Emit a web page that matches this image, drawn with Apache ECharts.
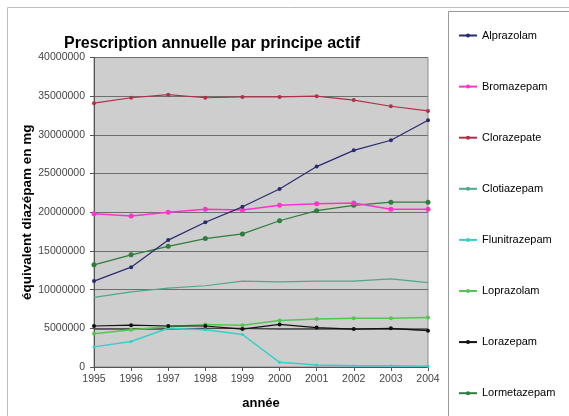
<!DOCTYPE html>
<html>
<head>
<meta charset="utf-8">
<script src="https://cdn.jsdelivr.net/npm/echarts@6/dist/echarts.min.js"></script>
<style>html,body{margin:0;padding:0;background:#fff}#c{width:569px;height:416px}</style>
</head>
<body>
<div id="c"></div>
<script>
var years = ['1995','1996','1997','1998','1999','2000','2001','2002','2003','2004'];
var alprazolam    = [11100000,12900000,16400000,18700000,20700000,23000000,25900000,28000000,29300000,31900000];
var bromazepam    = [19800000,19500000,20000000,20400000,20300000,20900000,21100000,21200000,20400000,20400000];
var clorazepate   = [34100000,34800000,35200000,34800000,34900000,34900000,35000000,34500000,33700000,33100000];
var clotiazepam   = [9000000,9700000,10200000,10500000,11100000,11000000,11100000,11100000,11400000,10900000];
var flunitrazepam = [2600000,3300000,5000000,4800000,4200000,600000,250000,150000,150000,100000];
var loprazolam    = [4300000,4800000,5200000,5500000,5400000,6000000,6200000,6300000,6300000,6400000];
var lorazepam     = [5300000,5400000,5300000,5300000,4900000,5500000,5100000,4900000,5000000,4700000];
var lormetazepam  = [13200000,14500000,15600000,16600000,17200000,18900000,20200000,20900000,21300000,21300000];
var autre         = [4900000,4900000,4900000,5000000,5000000,4900000,4900000,4900000,4900000,4800000];
var yTicks = [0,5000000,10000000,15000000,20000000,25000000,30000000,35000000,40000000];
var legendNames = ['Alprazolam','Bromazepam','Clorazepate','Clotiazepam','Flunitrazepam','Loprazolam','Lorazepam','Lormetazepam'];

var chart = echarts.init(document.getElementById('c'));
function s(name, data, color, size, symbol, width) {
  return {
    name: name, type: 'line', data: data, symbol: symbol || 'circle', symbolSize: size,
    showSymbol: size > 0,
    lineStyle: {color: color, width: width || 1.2},
    itemStyle: {color: color},
    emphasis: {disabled: true}, animation: false
  };
}
chart.setOption({
  animation: false,
  textStyle: {fontFamily: 'Liberation Sans, Arial, sans-serif'},
  title: {
    text: 'Prescription annuelle par principe actif',
    left: 207, top: 31, textAlign: 'center',
    textStyle: {fontSize: 16, fontWeight: 'bold', color: '#000', fontFamily: 'Liberation Sans, Arial, sans-serif'}
  },
  graphic: [
    {type: 'rect', shape: {x: 7.5, y: 7.5, width: 600, height: 450}, style: {fill: 'none', stroke: '#bdbdbd', lineWidth: 1}, z: -10},
    {type: 'rect', shape: {x: 448.5, y: 11.5, width: 200, height: 450}, style: {fill: '#fff', stroke: '#9a9a9a', lineWidth: 1}, z: -5}
  ],
  legend: {
    data: legendNames, orient: 'vertical', left: 458, top: 30, padding: 0,
    itemWidth: 18, itemHeight: 5, itemGap: 40.1,
    textStyle: {fontSize: 11, color: '#000', fontFamily: 'Liberation Sans, Arial, sans-serif'}
  },
  grid: {left: 94, right: 141, top: 57.5, bottom: 49, show: true, backgroundColor: '#cecece', borderColor: '#8a8a8a', borderWidth: 1},
  xAxis: {
    type: 'category', data: years, boundaryGap: false,
    name: 'année', nameLocation: 'middle', nameGap: 30, nameMoveOverlap: false,
    nameTextStyle: {fontSize: 13, fontWeight: 'bold', color: '#000'},
    axisLine: {lineStyle: {color: '#555'}},
    axisTick: {show: true, inside: false, length: 4, lineStyle: {color: '#555'}, alignWithLabel: true},
    axisLabel: {fontSize: 10.5, color: '#444', margin: 7},
    splitLine: {show: false}
  },
  yAxis: {
    type: 'value', min: 0, max: 40000000, interval: 5000000,
    name: 'équivalent diazépam en mg', nameLocation: 'middle', nameGap: 60, nameMoveOverlap: false,
    nameTextStyle: {fontSize: 13.5, fontWeight: 'bold', color: '#000'},
    axisLine: {show: true, lineStyle: {color: '#555'}},
    axisTick: {show: true, length: 4, lineStyle: {color: '#555'}},
    axisLabel: {fontSize: 10.5, color: '#444', margin: 9, formatter: function (v) { return yTicks.indexOf(v) >= 0 ? String(v) : ''; }},
    splitLine: {lineStyle: {color: '#6e6e6e', width: 1}}
  },
  series: [
    s('Clotiazepam', clotiazepam, '#4fa88a', 0, 'none', 1.2),
    s('Autre', autre, '#444444', 0, 'none', 1.2),
    s('Flunitrazepam', flunitrazepam, '#35d0c8', 3, 'circle', 1.5),
    s('Loprazolam', loprazolam, '#55c455', 4, 'circle', 1.5),
    s('Lorazepam', lorazepam, '#111111', 4, 'circle', 1.2),
    s('Clorazepate', clorazepate, '#b0304a', 4, 'circle', 1.2),
    s('Lormetazepam', lormetazepam, '#2e7d3e', 5, 'circle', 1.2),
    s('Bromazepam', bromazepam, '#ff33cc', 5, 'circle', 1.5),
    s('Alprazolam', alprazolam, '#2a2a70', 4, 'circle', 1.2)
  ]
});
</script>
</body>
</html>
